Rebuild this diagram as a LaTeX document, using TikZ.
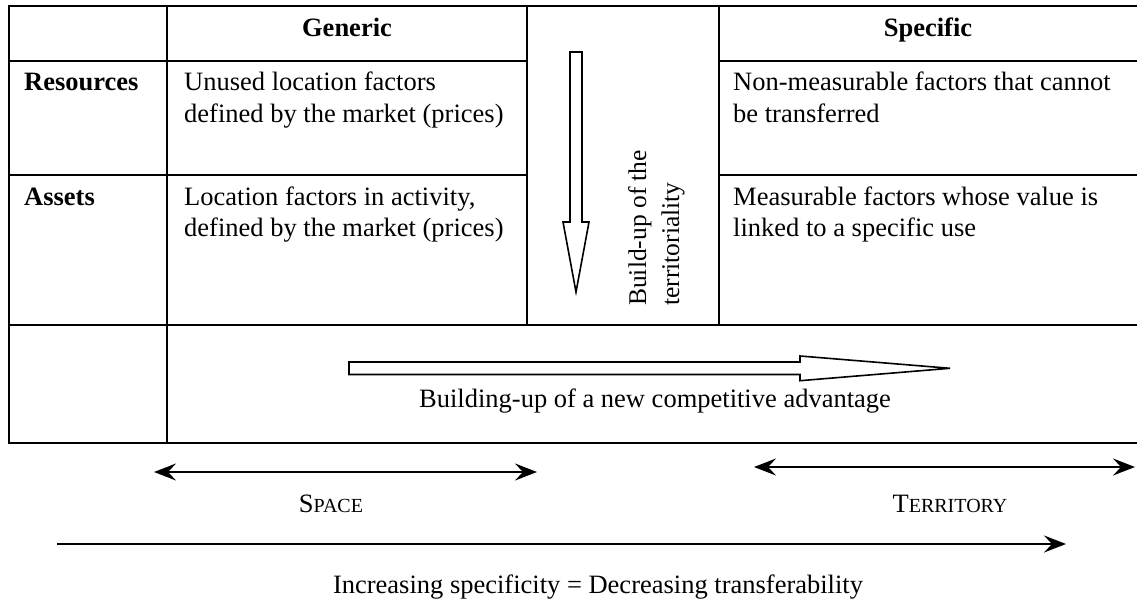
\documentclass[tikz,border=0pt]{standalone}
\usepackage{fontspec}
\setmainfont{Liberation Serif}
\usetikzlibrary{arrows.meta}
\begin{document}
\begin{tikzpicture}[x=1pt,y=-1pt,
  >={Stealth[length=22pt,width=17pt,inset=8pt]},
  grid/.style={line width=2pt},
  txt/.style={inner sep=0pt, font=\fontsize{26.5}{32}\selectfont},
  lft/.style={txt, anchor=base west},
  ctr/.style={txt, anchor=base},
  hd/.style={txt, anchor=base, font=\fontsize{26.5}{32}\selectfont\bfseries},
  rh/.style={txt, anchor=base west, font=\fontsize{26.5}{32}\selectfont\bfseries},
  rot/.style={inner sep=0pt, anchor=base west, rotate=90, font=\fontsize{25.5}{32}\selectfont},
  blk/.style={line width=1.6pt, fill=white, line join=miter},
  dbl/.style={line width=2pt, <->},
  sgl/.style={line width=2pt, ->}
]
\useasboundingbox (0,0) rectangle (1137,601);
\newcommand{\smc}[2]{#1{\fontsize{20}{20}\selectfont #2}}

% table grid
\draw[grid] (8,6) -- (1137,6);
\draw[grid] (8,61) -- (527,61);
\draw[grid] (719,61) -- (1137,61);
\draw[grid] (8,175.5) -- (527,175.5);
\draw[grid] (719,175.5) -- (1137,175.5);
\draw[grid] (8,325.5) -- (1137,325.5);
\draw[grid] (8,443) -- (1137,443);
\draw[grid] (9,6) -- (9,443);
\draw[grid] (167,6) -- (167,443);
\draw[grid] (527,6) -- (527,325.5);
\draw[grid] (719,6) -- (719,325.5);

% headers
\node[hd] (gen) at (347,37) {Generic};
\node[hd] (spec) at (928,37) {Specific};
\node[rh] (res) at (24,91) {Resources};
\node[rh] (ass) at (24,205.5) {Assets};

% cells
\node[lft] (g1a) at (184,91) {Unused location factors};
\node[lft] (g1b) at (184,122.5) {defined by the market (prices)};
\node[lft] (g2a) at (184,205.5) {Location factors in activity,};
\node[lft] (g2b) at (184,237) {defined by the market (prices)};
\node[lft] (s1a) at (733,91) {Non-measurable factors that cannot};
\node[lft] (s1b) at (733,122.5) {be transferred};
\node[lft] (s2a) at (733,205.5) {Measurable factors whose value is};
\node[lft] (s2b) at (733,237) {linked to a specific use};

% vertical block arrow
\draw[blk] (570,52) -- (582,52) -- (582,222) -- (589,222) -- (576,292)
  -- (563,222) -- (570,222) -- cycle;
\node[rot] (bt1) at (646,306) {Build-up of the};
\node[rot] (bt2) at (679,306) {territoriality};

% horizontal block arrow
\draw[blk] (349,362) -- (800,362) -- (800,356) -- (950,368.3) -- (800,380.7)
  -- (800,374.5) -- (349,374.5) -- cycle;
\node[ctr] (comp) at (655,407) {Building-up of a new competitive advantage};

% bottom arrows
\coordinate (sa) at (154,472);
\coordinate (sb) at (537,472);
\draw[dbl] (sa) -- (sb);
\coordinate (ta) at (754,467);
\coordinate (tb) at (1135,467);
\draw[dbl] (ta) -- (tb);
\node[ctr] (space) at (331,512) {\smc{S}{PACE}};
\node[ctr] (terr) at (950,512) {\smc{T}{ERRITORY}};
\coordinate (la) at (57,544);
\coordinate (lb) at (1066,544);
\draw[sgl] (la) -- (lb);
\node[ctr] (inc) at (598,593) {Increasing specificity = Decreasing transferability};
\end{tikzpicture}
\end{document}
